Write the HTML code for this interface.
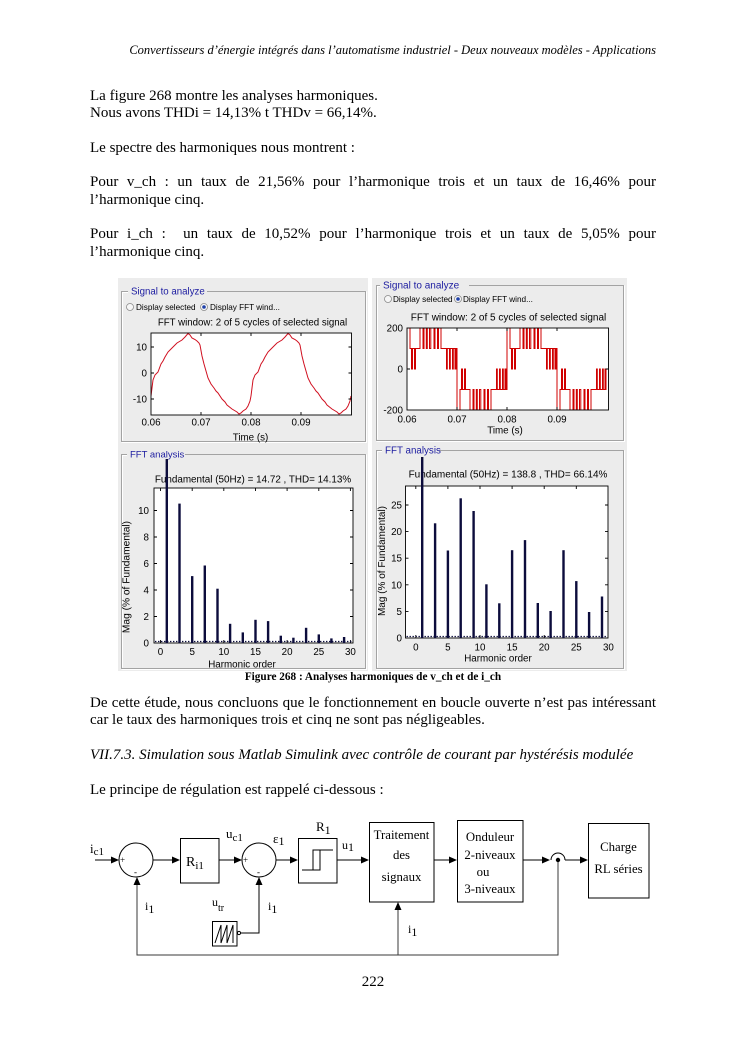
<!DOCTYPE html>
<html><head><meta charset="utf-8">
<style>
html,body{margin:0;padding:0;}
body{width:744px;height:1053px;background:#fff;position:relative;overflow:hidden;}
.t{position:absolute;left:90px;width:566px;font-family:"Liberation Serif",serif;font-size:15px;line-height:17px;color:#000;white-space:nowrap;}
.j{text-align:justify;text-align-last:justify;white-space:normal;}
.h{font-size:12.5px;line-height:14px;font-style:italic;text-align:right;}
.c{text-align:center;}
.cap{font-size:11.25px;line-height:13px;font-weight:bold;text-align:center;}
</style></head><body>
<svg width="744" height="1053" style="position:absolute;left:0;top:0" font-family="Liberation Sans, Arial, sans-serif">
<defs>
<clipPath id="cpL"><rect x="151" y="333" width="200.5" height="82"/></clipPath>
<clipPath id="cpR"><rect x="407" y="328" width="199.5" height="82"/></clipPath>
</defs>
<!-- figure backgrounds -->
<rect x="118" y="278" width="250" height="393" fill="#ececec"/>
<rect x="372" y="278" width="255" height="393" fill="#ececec"/>

<!-- group boxes -->
<g fill="none" stroke="#a3a3a3" stroke-width="1">
<path d="M128,291.5 H121.5 V441.5 H365.5 V291.5 H207"/>
<path d="M127,454.5 H121.5 V668.5 H365.5 V454.5 H185"/>
<path d="M380,285.5 H376.5 V440.5 H623.5 V285.5 H469"/>
<path d="M382,450.5 H376.5 V668.5 H623.5 V450.5 H439"/>
</g>
<g fill="none" stroke="#ffffff" stroke-width="1">
<path d="M128,292.5 H122.5 V440.5 M366.5,291.5 V442.5 H121.5"/>
<path d="M127,455.5 H122.5 V667.5 M366.5,454.5 V669.5 H121.5"/>
<path d="M380,286.5 H377.5 V439.5 M624.5,285.5 V441.5 H376.5"/>
<path d="M382,451.5 H377.5 V667.5 M624.5,450.5 V669.5 H376.5"/>
</g>
<g fill="#1c1ca0">
<text x="131" y="294.5" font-size="9.7">Signal to analyze</text>
<text x="130" y="457.5" font-size="9.5">FFT analysis</text>
<text x="383" y="288.5" font-size="10">Signal to analyze</text>
<text x="385" y="453.5" font-size="9.8">FFT analysis</text>
</g>

<!-- radio buttons -->
<g font-size="8.2" fill="#000">
<circle cx="130" cy="307" r="3.5" fill="#f6f6f6" stroke="#8a8a8a" stroke-width="0.8"/>
<text x="136" y="310">Display selected</text>
<circle cx="204" cy="307" r="3.5" fill="#f6f6f6" stroke="#8a8a8a" stroke-width="0.8"/>
<circle cx="204" cy="307" r="1.8" fill="#1d3fa8"/>
<text x="210" y="310">Display FFT wind...</text>
<circle cx="388" cy="299" r="3.5" fill="#f6f6f6" stroke="#8a8a8a" stroke-width="0.8"/>
<text x="393" y="302">Display selected</text>
<circle cx="458" cy="299" r="3.5" fill="#f6f6f6" stroke="#8a8a8a" stroke-width="0.8"/>
<circle cx="458" cy="299" r="1.8" fill="#1d3fa8"/>
<text x="463" y="302">Display FFT wind...</text>
</g>

<!-- ============ LEFT TOP AXES ============ -->
<text x="252.5" y="325.5" font-size="9.7" text-anchor="middle">FFT window: 2 of 5 cycles of selected signal</text>
<rect x="151" y="333" width="200.5" height="82" fill="#fff"/>
<g clip-path="url(#cpL)" fill="none" stroke="#d01020" stroke-width="1">
<path id="lw" d="M151,396 L153,380 L155,375 L158,372 L161,364 L163,361 L165,357 L168,352 L172,348 L174,346 L177,343 L182,340 L185,337 L188,333.5 L190,335 L192,338 L195,339.5 L197,341 L199,343 L200,345 L202,356 L204,364 L206,371 L208,378 L211,384 L214,388 L216,391 L218,393 L222,399 L225,402 L227,405 L232,409 L237,412 L239,414 L241,413 L243,411 L246,409 L248,406 L250,401 L251,396"/>
<use href="#lw" x="100"/>
</g>
<rect x="151" y="333" width="200.5" height="82" fill="none" stroke="#000" stroke-width="0.9"/>
<path d="M201,415v-3M251,415v-3M301,415v-3M201,333v3M251,333v3M301,333v3M151,347h3M151,373h3M151,399h3M351.5,347h-3M351.5,373h-3M351.5,399h-3" stroke="#000" stroke-width="0.9"/>
<g font-size="9.8" text-anchor="end">
<text x="147" y="350.5">10</text>
<text x="147" y="376.5">0</text>
<text x="147" y="402.5">-10</text>
</g>
<g font-size="9.8" text-anchor="middle">
<text x="151" y="425.5">0.06</text>
<text x="201" y="425.5">0.07</text>
<text x="251" y="425.5">0.08</text>
<text x="301" y="425.5">0.09</text>
<text x="250.5" y="440.5">Time (s)</text>
</g>

<!-- ============ RIGHT TOP AXES ============ -->
<text x="508.5" y="320.5" font-size="10" text-anchor="middle">FFT window: 2 of 5 cycles of selected signal</text>
<rect x="407" y="328" width="201.5" height="82" fill="#fff"/>
<g clip-path="url(#cpR)" fill="none" stroke="#d00000" stroke-width="1">
<path id="pw" d="M407,369 V328 H410 V348.5 H411.5 V369 H412.5 V348.5 H414.5 V369 H415.5 V348.5 H420 V328 H423 V348.5 H424 V328 H426.3 V348.5 H427.3 V328 H429.5 V348.5 H430.8 V328 H434 V348.5 H435 V328 H437.5 V348.5 H438.5 V328 H441 V348.5 H446.5 V369 H447.3 V348.5 H449.5 V369 H450.3 V348.5 H452.5 V369 H453.3 V348.5 H455 V369 H456 V348.5 H457 V410 H460 V389.5 H461.5 V369 H462.5 V389.5 H464.5 V369 H465.5 V389.5 H470 V410 H473 V389.5 H474 V410 H476.3 V389.5 H477.3 V410 H479.5 V389.5 H480.8 V410 H484 V389.5 H485 V410 H487.5 V389.5 H488.5 V410 H491 V389.5 H496.5 V369 H497.3 V389.5 H499.5 V369 H500.3 V389.5 H502.5 V369 H503.3 V389.5 H505 V369 H506 V389.5 H507 V328"/>
<use href="#pw" x="100"/>
</g>
<rect x="407" y="328" width="201.5" height="82" fill="none" stroke="#000" stroke-width="0.9"/>
<path d="M457,410v-3M507,410v-3M557,410v-3M457,328v3M507,328v3M557,328v3M407,369h3M608.5,369h-3" stroke="#000" stroke-width="0.9"/>
<g font-size="9.8" text-anchor="end">
<text x="403" y="331.5">200</text>
<text x="403" y="372.5">0</text>
<text x="403" y="413.5">-200</text>
</g>
<g font-size="9.8" text-anchor="middle">
<text x="407" y="422.5">0.06</text>
<text x="457" y="422.5">0.07</text>
<text x="507" y="422.5">0.08</text>
<text x="557" y="422.5">0.09</text>
<text x="505" y="433.5">Time (s)</text>
</g>

<!-- ============ LEFT BOTTOM AXES ============ -->
<text x="253" y="482.5" font-size="9.9" text-anchor="middle">Fundamental (50Hz) = 14.72 , THD= 14.13%</text>
<rect x="154" y="488" width="199" height="155" fill="#fff" stroke="#000" stroke-width="0.9"/>
<path d="M192.2,643v-3M223.8,643v-3M255.5,643v-3M287.1,643v-3M318.8,643v-3M350.4,643v-3M160.5,643v-3M192.2,488v3M223.8,488v3M255.5,488v3M287.1,488v3M318.8,488v3M350.4,488v3M160.5,488v3M154,616.5h3M154,590h3M154,563.5h3M154,537h3M154,510.5h3M353,616.5h-3M353,590h-3M353,563.5h-3M353,537h-3M353,510.5h-3" stroke="#000" stroke-width="0.9"/>
<line x1="155" y1="641.5" x2="352" y2="641.5" stroke="#0c0c3c" stroke-width="1.2" stroke-dasharray="1.4 1.6"/>
<g fill="#0c0c3c">
<rect x="165.6" y="459" width="2.4" height="184"/>
<rect x="178.3" y="503.6" width="2.4" height="139.4"/>
<rect x="191" y="576.1" width="2.4" height="66.9"/>
<rect x="203.6" y="565.5" width="2.4" height="77.5"/>
<rect x="216.3" y="588.7" width="2.4" height="54.3"/>
<rect x="228.9" y="623.8" width="2.4" height="19.2"/>
<rect x="241.6" y="632.4" width="2.4" height="10.6"/>
<rect x="254.3" y="619.8" width="2.4" height="23.2"/>
<rect x="266.9" y="621.1" width="2.4" height="21.9"/>
<rect x="279.6" y="635.7" width="2.4" height="7.3"/>
<rect x="292.2" y="637.7" width="2.4" height="5.3"/>
<rect x="304.9" y="627.8" width="2.4" height="15.2"/>
<rect x="317.6" y="634.4" width="2.4" height="8.6"/>
<rect x="330.2" y="638.4" width="2.4" height="4.6"/>
<rect x="342.9" y="637" width="2.4" height="6"/>
</g>
<g font-size="9.8" text-anchor="end">
<text x="149" y="646.5">0</text>
<text x="149" y="620">2</text>
<text x="149" y="593.5">4</text>
<text x="149" y="567">6</text>
<text x="149" y="540.5">8</text>
<text x="149" y="514">10</text>
</g>
<g font-size="9.8" text-anchor="middle">
<text x="160.5" y="655">0</text>
<text x="192.2" y="655">5</text>
<text x="223.8" y="655">10</text>
<text x="255.5" y="655">15</text>
<text x="287.1" y="655">20</text>
<text x="318.8" y="655">25</text>
<text x="350.4" y="655">30</text>
<text x="242" y="667.5">Harmonic order</text>
</g>
<text transform="translate(129.5,577) rotate(-90)" font-size="10.2" text-anchor="middle">Mag (% of Fundamental)</text>

<!-- ============ RIGHT BOTTOM AXES ============ -->
<text x="508" y="477.5" font-size="10" text-anchor="middle">Fundamental (50Hz) = 138.8 , THD= 66.14%</text>
<rect x="405.5" y="486" width="202.5" height="152" fill="#fff" stroke="#000" stroke-width="0.9"/>
<path d="M415.8,638v-3M447.9,638v-3M480,638v-3M512.1,638v-3M544.2,638v-3M576.3,638v-3M415.8,486v3M447.9,486v3M480,486v3M512.1,486v3M544.2,486v3M576.3,486v3M405.5,611.4h3M405.5,584.8h3M405.5,558.2h3M405.5,531.6h3M405.5,505h3M608,611.4h-3M608,584.8h-3M608,558.2h-3M608,531.6h-3M608,505h-3" stroke="#000" stroke-width="0.9"/>
<line x1="406.5" y1="636.5" x2="607" y2="636.5" stroke="#0c0c3c" stroke-width="1.2" stroke-dasharray="1.4 1.6"/>
<g fill="#0c0c3c">
<rect x="421" y="457" width="2.4" height="181"/>
<rect x="433.9" y="523.3" width="2.4" height="114.7"/>
<rect x="446.7" y="550.5" width="2.4" height="87.5"/>
<rect x="459.5" y="498.3" width="2.4" height="139.7"/>
<rect x="472.4" y="511" width="2.4" height="127"/>
<rect x="485.2" y="584.3" width="2.4" height="53.7"/>
<rect x="498.1" y="603.3" width="2.4" height="34.7"/>
<rect x="510.9" y="550.2" width="2.4" height="87.8"/>
<rect x="523.8" y="540.1" width="2.4" height="97.9"/>
<rect x="536.6" y="603" width="2.4" height="35"/>
<rect x="549.4" y="611" width="2.4" height="27"/>
<rect x="562.3" y="550.2" width="2.4" height="87.8"/>
<rect x="575.1" y="581.1" width="2.4" height="56.9"/>
<rect x="587.9" y="612" width="2.4" height="26"/>
<rect x="600.8" y="596.5" width="2.4" height="41.5"/>
</g>
<g font-size="9.8" text-anchor="end">
<text x="402" y="641.5">0</text>
<text x="402" y="614.9">5</text>
<text x="402" y="588.3">10</text>
<text x="402" y="561.7">15</text>
<text x="402" y="535.1">20</text>
<text x="402" y="508.5">25</text>
</g>
<g font-size="9.8" text-anchor="middle">
<text x="415.8" y="650.5">0</text>
<text x="447.9" y="650.5">5</text>
<text x="480" y="650.5">10</text>
<text x="512.1" y="650.5">15</text>
<text x="544.2" y="650.5">20</text>
<text x="576.3" y="650.5">25</text>
<text x="608.4" y="650.5">30</text>
<text x="498" y="661.5">Harmonic order</text>
</g>
<text transform="translate(385,561) rotate(-90)" font-size="10" text-anchor="middle">Mag (% of Fundamental)</text>

<!-- ============ BLOCK DIAGRAM ============ -->
<g font-family="Liberation Serif, serif" fill="#000">
<g fill="none" stroke="#000" stroke-width="1">
<line x1="95" y1="860" x2="112" y2="860"/>
<circle cx="136" cy="860" r="17"/>
<line x1="153" y1="860" x2="173" y2="860"/>
<rect x="180.5" y="838.5" width="38.5" height="44.5"/>
<line x1="219" y1="860" x2="235" y2="860"/>
<circle cx="259" cy="860" r="17"/>
<line x1="276" y1="860" x2="291" y2="860"/>
<rect x="298.5" y="838.5" width="38.5" height="44.5"/>
<path d="M302,870 H320 V850 M313,870 V850 H333"/>
<line x1="337" y1="860" x2="362" y2="860"/>
<rect x="369.5" y="822.5" width="64.5" height="79.5"/>
<line x1="434" y1="860" x2="450" y2="860"/>
<rect x="457.5" y="820.5" width="65.5" height="81.5"/>
<line x1="523" y1="860" x2="543" y2="860"/>
<path d="M551,860 A7,7 0 0 1 565,860"/>
<line x1="565" y1="860" x2="581" y2="860"/>
<rect x="588.5" y="823.5" width="60.5" height="74.5"/>
<rect x="212.5" y="921.5" width="24.5" height="24.5"/>
<path d="M215,943 L221,925 V943 L227,925 V943 L233,925 V943"/>
<circle cx="239" cy="933" r="1.6"/>
<path d="M240.6,933 H259 V885"/>
</g>
<g fill="none" stroke="#3a3a3a" stroke-width="1">
<path d="M558,862 V955 H137 V885"/>
<path d="M398,955 V909"/>
</g>
<circle cx="558" cy="860" r="2.2"/>
<!-- arrowheads -->
<polygon points="119,860 111,856.5 111,863.5"/>
<polygon points="180,860 172,856.5 172,863.5"/>
<polygon points="242,860 234,856.5 234,863.5"/>
<polygon points="298,860 290,856.5 290,863.5"/>
<polygon points="369,860 361,856.5 361,863.5"/>
<polygon points="457,860 449,856.5 449,863.5"/>
<polygon points="550,860 542,856.5 542,863.5"/>
<polygon points="588,860 580,856.5 580,863.5"/>
<polygon points="137,877 133.5,885 140.5,885"/>
<polygon points="259,877 255.5,885 262.5,885"/>
<polygon points="398,902 394.5,910 401.5,910"/>
<!-- signs -->
<text x="120" y="863" font-size="9">+</text>
<text x="243" y="863" font-size="9">+</text>
<text x="134" y="875" font-size="9">-</text>
<text x="257" y="875" font-size="9">-</text>
<!-- labels -->
<text x="90" y="853" font-size="13">i<tspan font-size="11" dy="2">c1</tspan></text>
<text x="186" y="866" font-size="14">R<tspan font-size="11" dy="3">i1</tspan></text>
<text x="226" y="838" font-size="13">u<tspan font-size="11" dy="3">c1</tspan></text>
<text x="273" y="843" font-size="13">ε<tspan font-size="12" dy="2">1</tspan></text>
<text x="316" y="831" font-size="13">R<tspan font-size="12" dy="3">1</tspan></text>
<text x="342" y="849" font-size="12">u<tspan font-size="12" dy="2">1</tspan></text>
<text x="145" y="910" font-size="12">i<tspan dy="3">1</tspan></text>
<text x="212" y="906" font-size="12">u<tspan font-size="10" dy="5">tr</tspan></text>
<text x="268" y="910" font-size="12">i<tspan dy="3">1</tspan></text>
<text x="408" y="933" font-size="12">i<tspan dy="3">1</tspan></text>
<g font-size="12.8" text-anchor="middle">
<text x="401.5" y="839">Traitement</text>
<text x="401.5" y="859">des</text>
<text x="401.5" y="881">signaux</text>
<text x="490" y="841">Onduleur</text>
<text x="490" y="859">2-niveaux</text>
<text x="483" y="876">ou</text>
<text x="490" y="893">3-niveaux</text>
<text x="618.5" y="851">Charge</text>
<text x="618.5" y="873">RL séries</text>
</g>
</g>
</svg>

<div class="t h" style="top:42.8px;">Convertisseurs d’énergie intégrés dans l’automatisme industriel - Deux nouveaux modèles - Applications</div>
<div class="t" style="top:87.9px;">La figure 268 montre les analyses harmoniques.</div>
<div class="t" style="top:105.15px;">Nous avons THDi = 14,13% t THDv = 66,14%.</div>
<div class="t" style="top:139.65px;">Le spectre des harmoniques nous montrent :</div>
<div class="t j" style="top:174.4px;">Pour v_ch : un taux de 21,56% pour l’harmonique trois et un taux de 16,46% pour</div>
<div class="t" style="top:191.65px;">l’harmonique cinq.</div>
<div class="t j" style="top:226.4px;">Pour i_ch :&nbsp; un taux de 10,52% pour l’harmonique trois et un taux de 5,05% pour</div>
<div class="t" style="top:243.65px;">l’harmonique cinq.</div>
<div class="t cap" style="top:670.5px;">Figure 268 : Analyses harmoniques de v_ch et de i_ch</div>
<div class="t j" style="top:694.9px;">De cette étude, nous concluons que le fonctionnement en boucle ouverte n’est pas intéressant</div>
<div class="t" style="top:712.15px;">car le taux des harmoniques trois et cinq ne sont pas négligeables.</div>
<div class="t" style="top:746.9px;font-style:italic;">VII.7.3. Simulation sous Matlab Simulink avec contrôle de courant par hystérésis modulée</div>
<div class="t" style="top:781.9px;">Le principe de régulation est rappelé ci-dessous :</div>
<div class="t c" style="top:973.9px;">222</div>
</body></html>
